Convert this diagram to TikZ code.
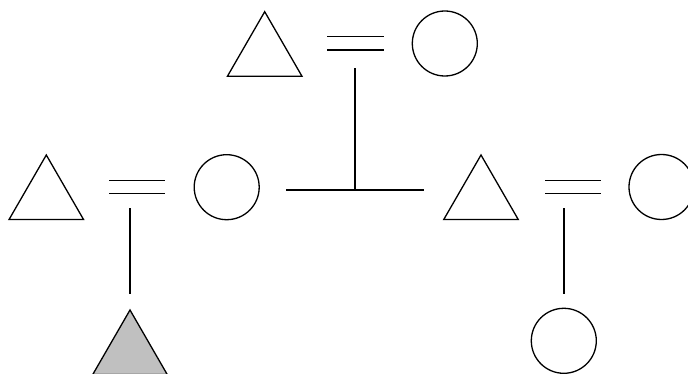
\documentclass[tikz,border=0pt]{standalone}
\usetikzlibrary{shapes.geometric}
\definecolor{affgray}{HTML}{C0C0C0}
\begin{document}
\begin{tikzpicture}[x=1pt,y=-1pt,
  male/.style={draw,regular polygon,regular polygon sides=3,minimum size=86pt,inner sep=0pt,line width=1.3pt},
  female/.style={draw,circle,minimum size=65pt,inner sep=0pt,line width=1.3pt},
  affected/.style={fill=affgray},
  link/.style={draw,line width=1.3pt}]
\useasboundingbox (0,0) rectangle (688,374);
% generation I
\node[male] (t1) at (264.7,54.7) {};
\node[female] (c1) at (444.8,43.5) {};
\coordinate (m1a) at (327.3,36.7); \coordinate (m1b) at (383.7,36.7);
\coordinate (m1c) at (327.3,50); \coordinate (m1d) at (383.7,50);
\draw[link] (m1a) -- (m1b);
\draw[link] (m1c) -- (m1d);
\coordinate (d1) at (355,68.3);
\coordinate (s1) at (355,190);
\coordinate (sl) at (286,190);
\coordinate (sr) at (424,190);
\draw[link] (d1) -- (s1);
\draw[link] (sl) -- (sr);
% generation II left
\node[male] (t2) at (46.3,198) {};
\node[female] (c2) at (226.7,187.2) {};
\coordinate (m2a) at (109,180.7); \coordinate (m2b) at (165,180.7);
\coordinate (m2c) at (109,193.3); \coordinate (m2d) at (165,193.3);
\draw[link] (m2a) -- (m2b);
\draw[link] (m2c) -- (m2d);
\coordinate (d2) at (130,208.3);
\coordinate (e2) at (130,294);
\draw[link] (d2) -- (e2);
\node[male,affected] (t4) at (130,353) {};
% generation II right
\node[male] (t3) at (481,198) {};
\node[female] (c3) at (661.5,187) {};
\coordinate (m3a) at (545,180.7); \coordinate (m3b) at (601.3,180.7);
\coordinate (m3c) at (545,193.3); \coordinate (m3d) at (601.3,193.3);
\draw[link] (m3a) -- (m3b);
\draw[link] (m3c) -- (m3d);
\coordinate (d3) at (564,208.3);
\coordinate (e3) at (564,294);
\draw[link] (d3) -- (e3);
\node[female] (c4) at (563.8,340.8) {};
\end{tikzpicture}
\end{document}
